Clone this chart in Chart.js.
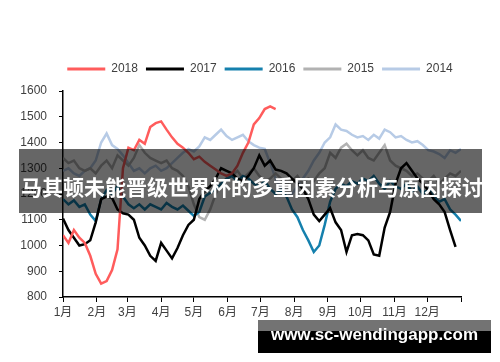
<!DOCTYPE html>
<html>
<head>
<meta charset="utf-8">
<script src="https://cdn.jsdelivr.net/npm/chart.js@4"></script>
<style>
  body { margin: 0; background: #fff; }
  #wrap { position: relative; width: 500px; height: 362px; overflow: hidden; }
  #banner { position: absolute; left: 19px; top: 149px; width: 463px; height: 64px; background: rgba(0,0,0,0.6); }
  #banner span { position: absolute; left: 2px; top: 22px; line-height: 26px; white-space: nowrap;
    font: bold 21px "Noto Sans CJK SC", sans-serif; color: #fff; }
  #wmTop { position: absolute; left: 258px; top: 320px; width: 233px; height: 11px; background: rgba(0,0,0,0.55); }
  #wmBox { position: absolute; left: 258px; top: 331px; width: 233px; height: 22px; background: #000; }
  #wmText { position: absolute; left: 258px; top: 325px; width: 233px; line-height: 26px; text-align: center;
    font: bold 17px "Liberation Sans", sans-serif; color: #fff; }
</style>
</head>
<body>
<div id="wrap">
  <canvas id="myChart" width="500" height="362"></canvas>
  <div id="banner"><span>马其顿未能晋级世界杯的多重因素分析与原因探讨</span></div>
  <div id="wmTop"></div>
  <div id="wmBox"></div>
  <div id="wmText">www.sc-wendingapp.com</div>
</div>
<script>
// x positions: day of year, one reading every 5 days
let days = Array.from({ length: 74 }, (_, i) => i * 5);
let monthStarts = [0, 31, 59, 90, 120, 151, 181, 212, 243, 273, 304, 334, 365];
let monthLabels = ["1月", "2月", "3月", "4月", "5月", "6月", "7月", "8月", "9月", "10月", "11月", "12月", ""];

let y2018 = [
  1040, 1010, 1060, 1030, 1010, 960, 890, 852, 862, 905,
  985, 1300, 1380, 1370, 1410, 1395, 1460, 1475, 1482, 1450,
  1420, 1395, 1380, 1360, 1335, 1345, 1325, 1310, 1295, 1280,
  1270, 1280, 1310, 1360, 1400, 1470, 1495, 1530, 1540, 1530
];
let y2017 = [
  1105, 1060, 1030, 1000, 1005, 1020, 1090, 1180, 1190, 1185,
  1140, 1125, 1120, 1100, 1030, 1000, 960, 940, 1010, 980,
  950, 990, 1040, 1080, 1100, 1180, 1210, 1230, 1260, 1300,
  1290, 1280, 1260, 1250, 1270, 1300, 1350, 1310, 1330, 1295,
  1290, 1280, 1260, 1240, 1220, 1180, 1120, 1095, 1120, 1145,
  1090, 1060, 975, 1040, 1045, 1040, 1020, 965, 960, 1070,
  1130, 1240, 1300, 1320, 1290, 1260, 1240, 1215, 1180, 1160,
  1130, 1060, 995
];
let y2016 = [
  1180, 1160, 1175, 1150, 1160, 1120, 1095, 1180, 1215, 1200,
  1230, 1190, 1160, 1145, 1160, 1140, 1160, 1150, 1140, 1165,
  1150, 1140, 1155, 1135, 1115, 1130, 1190, 1205, 1220, 1240,
  1260, 1270, 1250, 1270, 1260, 1240, 1230, 1250, 1220, 1200,
  1215, 1190, 1140, 1110, 1060, 1020, 975, 1000, 1080, 1170,
  1220, 1240, 1230, 1250, 1240, 1260, 1250, 1270, 1240, 1220,
  1250, 1230, 1220, 1240, 1210, 1230, 1200, 1220, 1190, 1170,
  1180, 1140, 1120, 1095
];
let y2015 = [
  1340, 1320, 1330, 1300, 1290, 1300, 1280, 1310, 1330, 1300,
  1350, 1330, 1310, 1340, 1390, 1360, 1340, 1330, 1320, 1330,
  1300, 1290, 1270, 1230, 1160, 1110, 1100, 1140, 1200, 1240,
  1260, 1270, 1290, 1260, 1280, 1300, 1270, 1250, 1260, 1280,
  1260, 1240, 1250, 1270, 1240, 1260, 1250, 1280, 1300, 1360,
  1340, 1380, 1395, 1370, 1350, 1370, 1340, 1330, 1360, 1390,
  1330, 1310, 1300, 1290, 1270, 1280, 1260, 1250, 1270, 1240,
  1260, 1280, 1270, 1290
];
let y2014 = [
  1290, 1300, 1280, 1270, 1290, 1300, 1330, 1400, 1435, 1390,
  1375, 1350, 1320, 1290, 1300, 1280, 1300, 1310, 1290, 1300,
  1320, 1340, 1360, 1375, 1365, 1385, 1420, 1410, 1430, 1450,
  1425, 1410, 1420, 1430, 1405, 1390, 1380, 1375, 1320, 1260,
  1220, 1190, 1200, 1230, 1260, 1290, 1330, 1360, 1400, 1420,
  1470, 1450, 1445, 1430, 1420, 1425, 1410, 1430, 1415, 1450,
  1440, 1420, 1425, 1410, 1400, 1405, 1390, 1370, 1365, 1355,
  1340, 1370, 1360, 1375
];

function toPoints(values) {
  return days.map((d, i) => ({ x: d, y: i < values.length ? values[i] : null }));
}

function line(label, values, color) {
  return {
    label: label,
    data: toPoints(values),
    borderColor: color,
    backgroundColor: color,
    borderWidth: 2.5,
    pointRadius: 0,
    fill: false,
    tension: 0,
  };
}

let font = { family: "'Liberation Sans', 'Noto Sans CJK SC', sans-serif", size: 12 };

// a bit more room under the legend
let legendGap = {
  id: "legendGap",
  beforeLayout(chart) {
    let lg = chart.legend;
    if (lg && !lg._gapDone) {
      let fit = lg.fit;
      lg.fit = function () {
        fit.call(this);
        this.height += 6;
      };
      lg._gapDone = true;
    }
  },
};

new Chart("myChart", {
  type: "line",
  data: {
    datasets: [
      line("2018", y2018, "#ff5c5c"),
      line("2017", y2017, "#000000"),
      line("2016", y2016, "#1580ad"),
      line("2015", y2015, "#b2b2b2"),
      line("2014", y2014, "#b7cbe6"),
    ],
  },
  plugins: [legendGap],
  options: {
    responsive: false,
    animation: false,
    layout: { padding: { top: 55, left: 20, right: 0, bottom: 0 } },
    plugins: {
      legend: {
        display: true,
        labels: {
          boxWidth: 38,
          boxHeight: 3,
          padding: 8,
          color: "#404040",
          font: font,
          generateLabels: (chart) =>
            Chart.defaults.plugins.legend.labels.generateLabels(chart).map((l) => {
              l.lineWidth = 0;
              l.fillStyle = l.strokeStyle;
              return l;
            }),
        },
      },
      tooltip: { enabled: false },
    },
    scales: {
      x: {
        type: "linear",
        min: 0,
        max: 365,
        afterBuildTicks: (s) => { s.ticks = monthStarts.map((v) => ({ value: v })); },
        afterFit: (s) => { s.height = 65; },
        grid: { display: true, drawOnChartArea: false, drawTicks: true, tickLength: 5, color: "#000" },
        border: { display: true, color: "#000", width: 1.5 },
        ticks: {
          color: "#404040",
          font: font,
          padding: 3,
          maxRotation: 0,
          autoSkip: false,
          callback: (v, i) => monthLabels[i],
        },
      },
      y: {
        min: 800,
        max: 1600,
        afterFit: (s) => { s.width = 43; },
        grid: { display: true, drawOnChartArea: false, drawTicks: true, tickLength: 4, color: "#000" },
        border: { display: true, color: "#000", width: 1.5 },
        ticks: { stepSize: 100, color: "#404040", font: font, padding: 12, callback: (v) => String(v) },
      },
      yRight: {
        position: "right",
        display: true,
        afterFit: (s) => { s.width = 39; },
        grid: { display: false },
        border: { display: false },
        ticks: { display: false },
      },
    },
  },
});
</script>
</body>
</html>
